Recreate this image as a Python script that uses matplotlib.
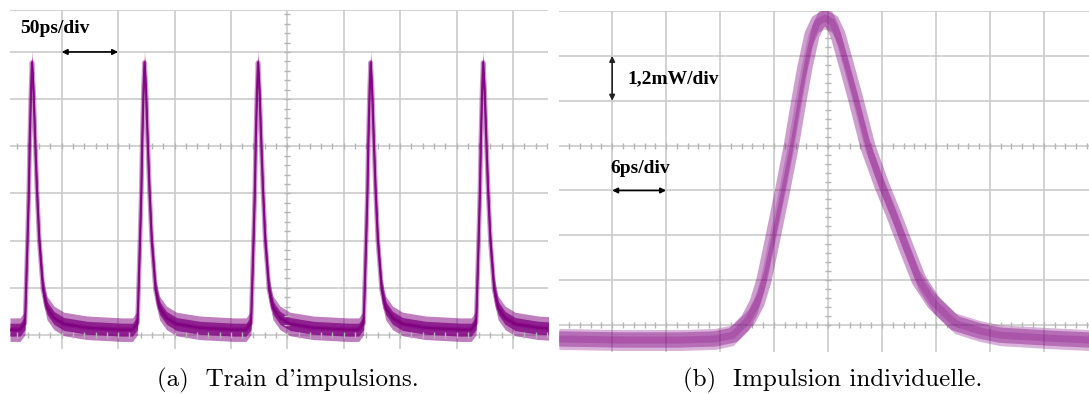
import numpy as np
import matplotlib.pyplot as plt

# (a) train d'impulsions : temps en ps (50 ps/div), amplitude en divisions
peak_t = [23.7, 123.4, 224.0, 323.8, 423.5]
shape_dt = [-10.6, -6.2, -5.3, -4.0, -2.8, -2.0, -0.9, 0.0,
            1.3, 2.8, 4.4, 6.4, 9.8, 13.3, 19.5, 28.4, 48.8, 79.8]
shape_lvl = [0.11, 0.25, 0.95, 2.01, 3.07, 4.13, 5.19, 5.78,
             5.19, 4.13, 3.07, 2.01, 0.95, 0.57, 0.36, 0.23, 0.15, 0.11]
noise_a = 0.25

# (b) impulsion individuelle : temps en ps (6 ps/div), puissance en mW (1,2 mW/div)
pulse_t = [-29.91, -23.13, -16.46, -12.56, -10.56, -8.90, -7.89, -7.12, -6.34,
           -5.56, -5.00, -4.11, -3.22, -2.56, -1.78, -1.11, -0.33, 0.44, 1.11,
           2.11, 3.11, 4.45, 6.01, 7.23, 8.67, 10.12, 11.79, 14.12, 16.90,
           19.12, 24.68, 29.02]
pulse_p = [0.03, 0.00, 0.00, 0.03, 0.13, 0.53, 0.99, 1.60, 2.49,
           3.40, 4.06, 5.16, 6.42, 7.30, 8.16, 8.51, 8.61, 8.51, 8.16,
           7.30, 6.42, 5.16, 4.12, 3.40, 2.49, 1.60, 0.99, 0.45, 0.24,
           0.13, 0.05, 0.00]
noise_b = 0.28

purple = '#800080'
grid_c = '#cbcbcb'
tick_c = '#b5b5b5'

# trace complete du train
train_t = [4.2]
train_y = [0.11]
for tp in peak_t:
    for dt, lv in zip(shape_dt, shape_lvl):
        train_t.append(tp + dt)
        train_y.append(lv)
train_t = np.array(train_t)
train_y = np.array(train_y)
pulse_t = np.array(pulse_t)
pulse_p = np.array(pulse_p)

fig = plt.figure(figsize=(10.89, 3.94), dpi=100)
ax1 = fig.add_axes([10/1089, 45/394, 538/1089, 339/394])
ax2 = fig.add_axes([559/1089, 42/394, 530/1089, 341/394])

for ax in (ax1, ax2):
    ax.set_axisbelow(True)
    ax.grid(True, color=grid_c, lw=1.2)
    ax.tick_params(length=0, labelbottom=False, labelleft=False)
    for s in ax.spines.values():
        s.set_visible(False)

# --- panneau (a)
ax1.set_xlim(4.2, 481)
ax1.set_ylim(-0.30, 6.89)
ax1.set_xticks(np.arange(50, 481, 50))
ax1.set_yticks(np.arange(0, 7))
ax1.axhline(6.89, color=grid_c, lw=1.2)
# graduations de l'axe central
vt = np.arange(0.2, 6.85, 0.2)
ax1.plot(np.full_like(vt, 250), vt, '_', ms=4, color=tick_c)
ht = np.arange(10, 481, 10)
for yl in (0, 4):
    ax1.plot(ht, np.full_like(ht, yl, dtype=float), '|', ms=4, color=tick_c)

ax1.fill_between(train_t, train_y - noise_a, train_y + noise_a,
                 color=purple, alpha=0.5, lw=0)
ax1.fill_between(train_t, train_y - noise_a * 0.55, train_y + noise_a * 0.55,
                 color=purple, alpha=0.75, lw=0)
ax1.plot(train_t, train_y, color=purple, lw=3.4, alpha=0.4, solid_joinstyle='round')
ax1.plot(train_t, train_y, color=purple, lw=1.6, alpha=0.9, solid_joinstyle='round')

ax1.annotate('', xy=(100, 6), xytext=(50, 6),
             arrowprops=dict(arrowstyle='<|-|>', color='black', lw=1.2,
                             mutation_scale=8, shrinkA=0, shrinkB=0))
ax1.text(13.0, 6.5, '50ps/div', fontsize=14, fontweight='bold',
         family='Liberation Serif', ha='left', va='center')

# --- panneau (b)
ax2.set_xlim(-29.91, 29.02)
ax2.set_ylim(-0.32, 8.80)
ax2.set_xticks(np.arange(-24, 29, 6))
ax2.set_yticks(0.4 + 1.2 * np.arange(0, 8))
vt2 = np.arange(0.4, 8.8, 0.24)
ax2.plot(np.zeros_like(vt2), vt2, '_', ms=4, color=tick_c)
ht2 = np.arange(-28.8, 29, 1.2)
for yl in (0.4, 5.2):
    ax2.plot(ht2, np.full_like(ht2, yl), '|', ms=4, color=tick_c)

ax2.fill_between(pulse_t, pulse_p - noise_b, pulse_p + noise_b,
                 color=purple, alpha=0.3, lw=0)
ax2.plot(pulse_t, pulse_p, color=purple, lw=11, alpha=0.38,
         solid_joinstyle='round', solid_capstyle='round')
ax2.plot(pulse_t, pulse_p, color=purple, lw=5, alpha=0.22,
         solid_joinstyle='round', solid_capstyle='round')

ax2.annotate('', xy=(-24, 7.6), xytext=(-24, 6.4),
             arrowprops=dict(arrowstyle='<|-|>', color='#222222', lw=1.2,
                             mutation_scale=8, shrinkA=0, shrinkB=0))
ax2.text(-22.35, 6.98, '1,2mW/div', fontsize=14, fontweight='bold',
         family='Liberation Serif', ha='left', va='center')
ax2.annotate('', xy=(-18, 4.0), xytext=(-24, 4.0),
             arrowprops=dict(arrowstyle='<|-|>', color='black', lw=1.2,
                             mutation_scale=8, shrinkA=0, shrinkB=0))
ax2.text(-24.24, 4.6, '6ps/div', fontsize=14, fontweight='bold',
         family='Liberation Serif', ha='left', va='center')

# legendes
fig.text(157/1089, 1 - 386/394, "(a)  Train d'impulsions.", ha='left',
         va='baseline', fontsize=18, family=['cmr10', 'DejaVu Serif'])
fig.text(683/1089, 1 - 386/394, "(b)  Impulsion individuelle.", ha='left',
         va='baseline', fontsize=18, family=['cmr10', 'DejaVu Serif'])

fig.savefig('out.png', dpi=100)
